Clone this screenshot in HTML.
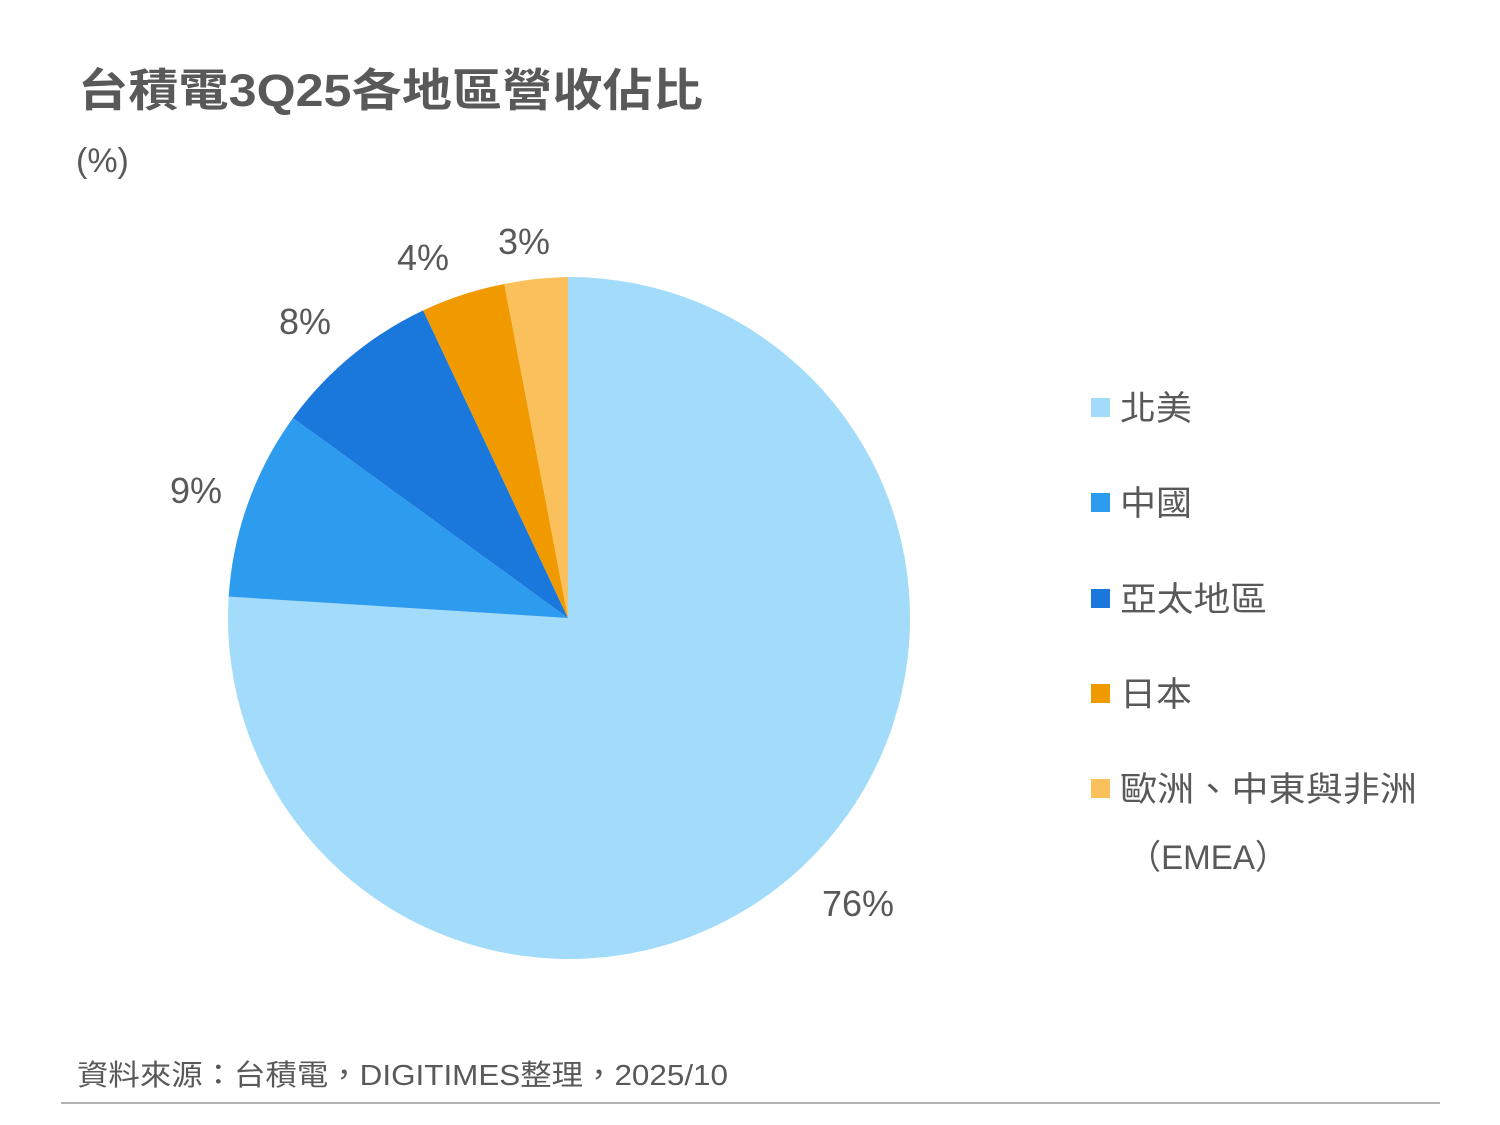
<!DOCTYPE html>
<html><head><meta charset="utf-8"><style>
html,body{margin:0;padding:0;background:#fff;}
body{width:1500px;height:1125px;position:relative;overflow:hidden;font-family:"Liberation Sans","Noto Sans CJK TC",sans-serif;color:#5a5a5a;}
</style></head><body>
<svg width="1500" height="1125" xmlns="http://www.w3.org/2000/svg" style="position:absolute;left:0;top:0">
<g font-family="Liberation Sans, Noto Sans CJK TC, sans-serif" fill="#595959">
<text x="78" y="106" font-size="45" font-weight="bold" textLength="625" lengthAdjust="spacingAndGlyphs">台積電3Q25各地區營收佔比</text>
<text x="76" y="172" font-size="34">(%)</text>
<path d="M568,618 L568,277 A341,341 0 1 1 228.7,596.6 Z" fill="#a3dcfa"/>
<path d="M568,618 L228.7,596.6 A341,341 0 0 1 293,418 Z" fill="#2e9cee"/>
<path d="M568,618 L293,418 A341,341 0 0 1 423.2,310.4 Z" fill="#1a78dc"/>
<path d="M568,618 L423.2,310.4 A341,341 0 0 1 504.3,284 Z" fill="#f09a00"/>
<path d="M568,618 L504.3,284 A341,341 0 0 1 568,277 Z" fill="#f9c05c"/>
<g font-size="36">
<text x="822" y="916">76%</text>
<text x="170" y="503">9%</text>
<text x="279" y="334">8%</text>
<text x="397" y="270">4%</text>
<text x="498" y="254">3%</text>
</g>
<g font-size="34">
<rect x="1091" y="398" width="19" height="19" fill="#a3dcfa"/><text x="1120" y="420" textLength="72" lengthAdjust="spacingAndGlyphs">北美</text>
<rect x="1091" y="493" width="19" height="19" fill="#2e9cee"/><text x="1120" y="515" textLength="72" lengthAdjust="spacingAndGlyphs">中國</text>
<rect x="1091" y="589" width="19" height="19" fill="#1a78dc"/><text x="1120" y="611" textLength="147" lengthAdjust="spacingAndGlyphs">亞太地區</text>
<rect x="1091" y="684" width="19" height="19" fill="#f09a00"/><text x="1120" y="706" textLength="72" lengthAdjust="spacingAndGlyphs">日本</text>
<rect x="1091" y="779" width="19" height="19" fill="#f9c05c"/><text x="1120" y="801" textLength="297" lengthAdjust="spacingAndGlyphs">歐洲、中東與非洲</text>
<text x="1128" y="869" textLength="160" lengthAdjust="spacingAndGlyphs">（EMEA）</text>
</g>
<text x="77" y="1085" font-size="29" textLength="651" lengthAdjust="spacingAndGlyphs">資料來源：台積電，DIGITIMES整理，2025/10</text>
</g>
<line x1="61" y1="1103" x2="1440" y2="1103" stroke="#999" stroke-width="1.5"/>
</svg>
</body></html>
